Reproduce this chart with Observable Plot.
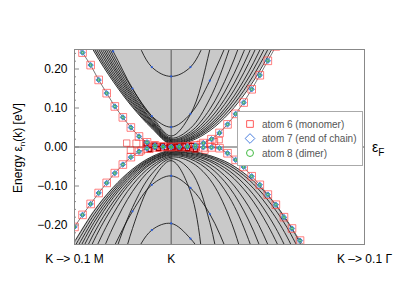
<!DOCTYPE html>
<html><head><meta charset="utf-8">
<script src="https://cdn.jsdelivr.net/npm/d3@7"></script>
<script src="https://cdn.jsdelivr.net/npm/@observablehq/plot@0.6"></script>
<style>body{margin:0;background:#fff}</style>
</head><body><div id="chart"></div>
<script>
// ---------- data ----------
const kGrid = [-1.1,-0.8,-0.6,-0.4,-0.2,0,0.2,0.4,0.6,0.8,1.0,1.2,1.5];

// conduction-like bands (eV) on kGrid
const upperNames = ["u0","u1","u2","u3","u4","u5","u6","u7","u8","u9","uB","uA"];
const upperValues = [
  [0.385,0.246,0.168,0.102,0.048,0.006,0.015,0.042,0.087,0.150,0.232,0.331,0.514],
  [0.398,0.254,0.174,0.106,0.051,0.008,0.018,0.047,0.095,0.163,0.250,0.356,0.553],
  [0.412,0.263,0.180,0.111,0.054,0.010,0.020,0.052,0.104,0.177,0.270,0.385,0.596],
  [0.426,0.273,0.187,0.115,0.057,0.012,0.023,0.057,0.113,0.192,0.293,0.417,0.645],
  [0.442,0.283,0.194,0.120,0.060,0.014,0.026,0.064,0.126,0.214,0.326,0.463,0.715],
  [0.458,0.293,0.202,0.125,0.063,0.016,0.030,0.072,0.141,0.239,0.364,0.517,0.80],
  [0.475,0.304,0.209,0.130,0.066,0.018,0.034,0.082,0.163,0.275,0.420,0.60,0.92],
  [0.494,0.316,0.217,0.135,0.069,0.020,0.039,0.097,0.194,0.329,0.503,0.715,1.1],
  [0.513,0.328,0.226,0.141,0.074,0.023,0.048,0.124,0.250,0.427,0.65,0.93,1.44],
  [0.531,0.340,0.235,0.148,0.079,0.028,0.084,0.250,0.528,0.92,1.4,1.9,2.4],
  [0.46,0.33,0.245,0.15,0.079,0.051,0.085,0.17,0.28,0.40,0.52,0.64,0.82],
  [0.68,0.52,0.42,0.30,0.205,0.181,0.205,0.30,0.42,0.52,0.62,0.72,0.87]
];
// valence-like bands (eV) on kGrid
const lowerNames = ["l0","l1","l2","l3","l4","l5","l6","l7","l8","l9","l10","lB","lA"];
const lowerValues = [
  [-0.285,-0.165,-0.104,-0.057,-0.025,-0.008,-0.011,-0.022,-0.042,-0.076,-0.124,-0.189,-0.323],
  [-0.300,-0.174,-0.110,-0.061,-0.028,-0.010,-0.013,-0.025,-0.047,-0.083,-0.136,-0.207,-0.354],
  [-0.316,-0.184,-0.116,-0.065,-0.030,-0.012,-0.016,-0.028,-0.053,-0.093,-0.152,-0.231,-0.397],
  [-0.334,-0.194,-0.123,-0.069,-0.033,-0.014,-0.018,-0.033,-0.061,-0.107,-0.174,-0.266,-0.457],
  [-0.353,-0.206,-0.130,-0.074,-0.035,-0.016,-0.021,-0.037,-0.070,-0.123,-0.201,-0.307,-0.53],
  [-0.381,-0.222,-0.141,-0.080,-0.039,-0.018,-0.024,-0.044,-0.085,-0.152,-0.250,-0.385,-0.67],
  [-0.413,-0.240,-0.152,-0.086,-0.042,-0.020,-0.027,-0.052,-0.103,-0.187,-0.312,-0.484,-0.85],
  [-0.469,-0.272,-0.172,-0.097,-0.048,-0.023,-0.031,-0.063,-0.128,-0.237,-0.398,-0.62,-1.1],
  [-0.568,-0.327,-0.205,-0.114,-0.055,-0.026,-0.038,-0.083,-0.179,-0.34,-0.58,-0.9,-1.5],
  [-0.82,-0.466,-0.287,-0.155,-0.069,-0.030,-0.061,-0.194,-0.486,-1.0,-1.5,-2.0,-2.5],
  [-1.17,-0.655,-0.398,-0.209,-0.088,-0.035,-0.115,-0.481,-1.0,-1.5,-2.0,-2.5,-3.0],
  [-0.52,-0.36,-0.26,-0.165,-0.097,-0.074,-0.105,-0.172,-0.28,-0.40,-0.52,-0.64,-0.82],
  [-0.75,-0.55,-0.42,-0.29,-0.213,-0.196,-0.235,-0.31,-0.42,-0.55,-0.68,-0.8,-1.0]
];
const dottedBands = ["uA","uB","lA","lB"];

// edge-state bands (with atom weights)
const edge1K = [-1.0,-0.917,-0.833,-0.75,-0.667,-0.583,-0.5,-0.417,-0.333,-0.25,-0.167,-0.083,0,0.083,0.167,0.25,0.333,0.417,0.5,0.583,0.667,0.75,0.833,0.917,1.0,1.083,1.167,1.25,1.333,1.417];
const edge1E = [0.27,0.242,0.21,0.172,0.138,0.104,0.076,0.050,0.027,0.012,0.004,0.001,0,0,0,-0.001,-0.001,-0.001,-0.003,-0.016,-0.033,-0.051,-0.075,-0.097,-0.122,-0.148,-0.180,-0.209,-0.240,-0.27];
const edge2K = [-1.083,-1.0,-0.917,-0.833,-0.75,-0.667,-0.583,-0.5,-0.417,-0.333,-0.25,-0.167,-0.083,0,0.083,0.167,0.25,0.333,0.417,0.5,0.583,0.667,0.75,0.833,0.917,1.0,1.083];
const edge2E = [-0.232,-0.205,-0.174,-0.146,-0.118,-0.092,-0.067,-0.045,-0.026,-0.012,-0.004,-0.001,0,0,0.001,0.002,0.004,0.010,0.020,0.036,0.058,0.085,0.114,0.148,0.184,0.221,0.258];

// monomer-weight cluster near the Fermi level
const clusterK = [-0.46,-0.42,-0.36,-0.31,-0.26,-0.22,-0.17,-0.13,-0.09,-0.05,-0.02,0.02,0.05,0.09,0.13,0.17,0.21,0.25,0.3,0.35,0.4,0.45,0.5];
const clusterE = [0.010,-0.008,0.009,-0.009,0.008,-0.006,0.005,-0.004,0.003,-0.002,0.002,-0.002,0.002,-0.003,0.003,-0.004,0.004,-0.006,0.007,-0.008,0.010,0.014,0.018];
const clusterR = [5,5.5,6,6,5.5,5,4.5,4,3.5,3.5,3,3,3,3.5,3.5,4,4,4.5,5,5,5,4.5,4];

const xTicks = [-1, 0, 2];
const xTickLabels = ["K \u2013> 0.1 M", "K", "K \u2013> 0.1 \u0393"];
const yTicks = [-0.2,-0.1,0,0.1,0.2];
const yMinorTicks = [-0.24,-0.22,-0.18,-0.16,-0.14,-0.12,-0.08,-0.06,-0.04,-0.02,0.02,0.04,0.06,0.08,0.12,0.14,0.16,0.18,0.22,0.24];
const legendLabels = ["atom 6 (monomer)","atom 7 (end of chain)","atom 8 (dimer)"];
const legendColors = ["#ff5a5a","#4a7fe0","#44bb44"];
const legendSymbols = [d3.symbolSquare, d3.symbolDiamond2, d3.symbolCircle];

// ---------- tables ----------
function toTable(names, values) {
  const out = [];
  names.forEach((n, b) => values[b].forEach((e, i) => out.push({band: n, k: kGrid[i], e})));
  return out;
}
const upperTable = toTable(upperNames, upperValues);
const lowerTable = toTable(lowerNames, lowerValues);
const bandTable = upperTable.concat(lowerTable);
const upperEnv = upperTable.filter(d => d.band === "u0");
const lowerEnv = lowerTable.filter(d => d.band === "l0");
const edgeTable = edge1K.map((k,i)=>({band:"e1",k,e:edge1E[i]}))
  .concat(edge2K.map((k,i)=>({band:"e2",k,e:edge2E[i]})));
const clusterTable = clusterK.map((k,i)=>({k, e: clusterE[i], r: clusterR[i]}));
const bandDots = bandTable.filter(d => dottedBands.includes(d.band));

// ---------- plot ----------
const plot = Plot.plot({
  width: 415, height: 294,
  marginLeft: 74, marginRight: 51, marginTop: 49, marginBottom: 50,
  x: {domain: [-1, 2]},
  y: {domain: [-0.25, 0.25]},
  style: {fontFamily: "'Liberation Sans', Arial, sans-serif", fontSize: "12px", color: "#000", background: "#fff"},
  marks: [
    Plot.areaY(upperEnv, {x: "k", y1: "e", y2: 0.3, fill: "#c9c9c9", curve: "catmull-rom", clip: true}),
    Plot.areaY(lowerEnv, {x: "k", y1: -0.3, y2: "e", fill: "#c9c9c9", curve: "catmull-rom", clip: true}),
    Plot.ruleY([0], {stroke: "#555", strokeWidth: 1}),
    Plot.ruleX([0], {stroke: "#555", strokeWidth: 1}),
    Plot.line(bandTable, {x: "k", y: "e", z: "band", stroke: "#111", strokeWidth: 0.85, curve: "catmull-rom", clip: true}),
    Plot.dot(bandDots, {x: "k", y: "e", r: 1.1, fill: "#2a5bd7", clip: true}),
    Plot.line(edgeTable, {x: "k", y: "e", z: "band", stroke: "#555", strokeWidth: 0.8, clip: true}),
    Plot.dot(edgeTable, {x: "k", y: "e", symbol: "square", r: 4.3, stroke: "#ff4a4a", strokeOpacity: 0.7, strokeWidth: 1, fill: "none", clip: true}),
    Plot.dot(clusterTable, {x: "k", y: "e", symbol: "square", r: "r", stroke: "#ee2a2a", strokeOpacity: 0.6, strokeWidth: 1, fill: "none", clip: true}),
    Plot.dot(clusterTable.filter(d => Math.abs(d.k) < 0.3), {x: "k", y: "e", symbol: "square", r: 2.2, stroke: "#a00", strokeWidth: 1.2, fill: "none", clip: true}),
    Plot.dot(edgeTable, {x: "k", y: "e", symbol: "diamond2", r: 2.4, stroke: "#3c78e0", fill: "#8fc0ee", strokeWidth: 1, clip: true}),
    Plot.dot(edgeTable, {x: "k", y: "e", r: 1.2, stroke: "#3bb33b", fill: "none", strokeWidth: 1, clip: true}),
    Plot.tickY(yMinorTicks, {y: d => d, stroke: "#888", insetRight: 288}),
    Plot.tickY(yTicks, {y: d => d, stroke: "#888", insetRight: 285}),
    Plot.frame({stroke: "#888"}),
    Plot.axisX(xTicks, {tickFormat: d => xTickLabels[xTicks.indexOf(d)], tickSize: 0, tickPadding: 10, label: null}),
    Plot.axisY(yTicks, {tickFormat: d3.format(".2f"), tickSize: 0, tickPadding: 7, label: null})
  ]
});
document.getElementById("chart").appendChild(plot);

// ---------- annotations: y label, Fermi label, legend ----------
const svg = d3.select(plot);
const ys = plot.scale("y");
const font = "'Liberation Sans', Arial, sans-serif";
const yl = svg.append("text")
  .attr("transform", "translate(22,148) rotate(-90)")
  .attr("text-anchor", "middle").attr("font-family", font).attr("font-size", 12).attr("fill", "#000");
yl.append("tspan").text("Energy \u03b5");
yl.append("tspan").attr("font-size", 8).attr("dy", 3).text("n");
yl.append("tspan").attr("dy", -3).text("(k) [eV]");

const ef = svg.append("text")
  .attr("x", 372).attr("y", ys.apply(0) + 5).attr("text-anchor", "start")
  .attr("font-family", font).attr("font-size", 14).attr("fill", "#000");
ef.append("tspan").text("\u03b5");
ef.append("tspan").attr("font-size", 10).attr("dy", 4).text("F");

const lg = svg.append("g");
lg.append("rect").attr("x", 237.5).attr("y", 111.5).attr("width", 125).attr("height", 54)
  .attr("fill", "#fff").attr("stroke", "#aaa");
legendLabels.forEach((lab, i) => {
  const cy = 124 + i * 14.5;
  const size = i === 2 ? 38 : (i === 1 ? 60 : 45);
  lg.append("path").attr("d", d3.symbol(legendSymbols[i], size)())
    .attr("transform", `translate(250,${cy})`)
    .attr("fill", "none").attr("stroke", legendColors[i]).attr("stroke-width", 1);
  lg.append("text").attr("x", 262).attr("y", cy + 3.5).attr("text-anchor", "start")
    .attr("font-family", font).attr("font-size", 10).attr("fill", "#555").text(lab);
});
</script>
</body></html>
